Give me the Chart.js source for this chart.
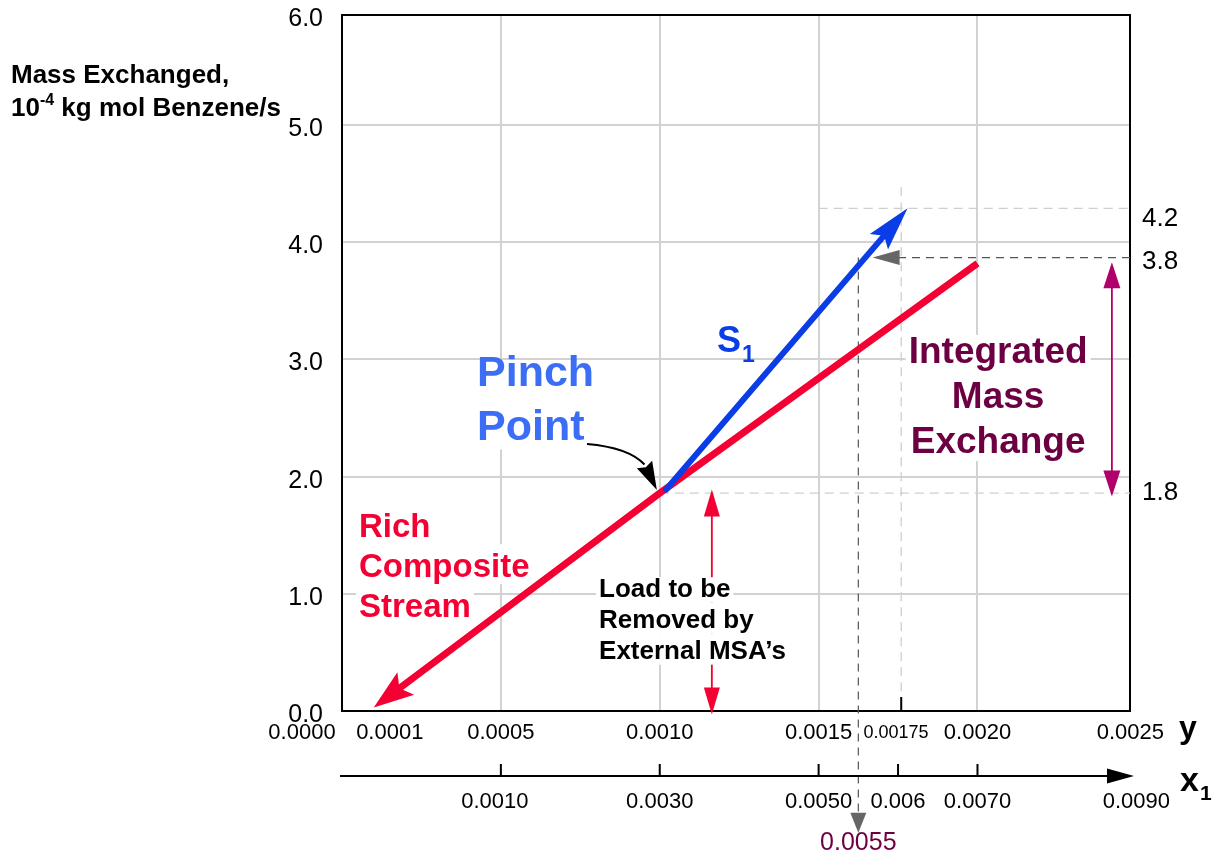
<!DOCTYPE html>
<html>
<head>
<meta charset="utf-8">
<title>Mass exchange composite diagram</title>
<script src="https://cdn.jsdelivr.net/npm/chart.js@4/dist/chart.umd.min.js"></script>
<style>
html,body{margin:0;padding:0;background:#ffffff;}
#wrap{width:1215px;height:860px;}
canvas{display:block;}
</style>
</head>
<body>
<div id="wrap"><canvas id="chart" width="1215" height="860"></canvas></div>
<script>
// ---------------- data ----------------
// main horizontal axis: y (rich-stream composition)
const xMin = 0;
const xMax = 0.00248;
const xGridValues = [0.0005, 0.0010, 0.0015, 0.0020];
const xTickValues = [0, 0.0001, 0.0005, 0.0010, 0.0015, 0.00175, 0.0020, 0.0025];
const xTickLabels = ['0.0000', '0.0001', '0.0005', '0.0010', '0.0015', '0.00175', '0.0020', '0.0025'];

// second horizontal axis: x1 (lean stream S1 composition)
const x1Min = -0.001;
const x1Max = 0.00892;
const x1TickValues = [0.0010, 0.0030, 0.0050, 0.0060, 0.0070, 0.0090];
const x1TickLabels = ['0.0010', '0.0030', '0.0050', '0.006', '0.0070', '0.0090'];
const x1MarkValues = [0.0055];
const x1MarkLabels = ['0.0055'];

// vertical axis: mass exchanged, 1e-4 kg mol benzene/s
const yMin = 0;
const yMax = 5.94;
const yTickValues = [0, 1, 2, 3, 4, 5, 5.94];
const yTickLabels = ['0.0', '1.0', '2.0', '3.0', '4.0', '5.0', '6.0'];
const yGridValues = [1, 2, 3, 4, 5];
const rightTickValues = [1.86, 3.83, 4.2];
const rightTickLabels = ['1.8', '3.8', '4.2'];

// rich composite stream
const richX = [0.0020, 0.0010, 0.0001];
const richY = [3.82, 1.86, 0.03];
// lean stream S1
const s1X = [0.00102, 0.00178];
const s1Y = [1.89, 4.29];
// integrated mass exchange (double arrow)
const imeX = [0.002423, 0.002423];
const imeY = [1.83, 3.83];
// load to be removed by external MSAs (double arrow)
const loadX = [0.001164, 0.001164];
const loadY = [1.89, -0.03];
// dark guide lines
const g38X = [0.00248, 0.00167];
const g38Y = [3.87, 3.87];
const g55X1 = [0.0055, 0.0055];
const g55Y = [3.87, -1.04];
// light guide lines
const g42X = [0.0015, 0.00248];
const g42Y = [4.29, 4.29];
const g175X = [0.00176, 0.00176];
const g175Y = [4.47, 0];
const g18X = [0.0010, 0.00248];
const g18Y = [1.86, 1.86];

// ---------------- styles / layout ----------------
const FAMILY = "'Liberation Sans', Arial, Helvetica, sans-serif";
const f = (size, bold) => (bold ? 'bold ' : '') + size + 'px ' + FAMILY;
const C = {
  red: '#f50032', blue: '#0a3de6', pinch: '#3b6ef5', purple: '#6d0042',
  magenta: '#b0006b', gray: '#666666', dark: '#555555', light: '#cfcfcf', grid: '#d2d2d2'
};
const LAYOUT = {
  top: 15, leftW: 342, rightW: 85, bottomH: 149,
  xLabelDy: 22, xLabelNudge: [-40, 16, 0, 0, 0, -2, 0, -6],
  x1AxisDy: 65, x1LabelDy: 91, x1TickUp: 12, x1LabelNudge: [-6, 0, 0, 0, 0, 0],
  markLabelDy: 132
};

const textBlocks = [
  { lines: ['Pinch', 'Point'], x: 0.000425, y: [2.774, 2.313], size: 43, color: C.pinch, align: 'left', cover: 'under', capTop: 0.58 },
  { lines: ['Integrated', 'Mass', 'Exchange'], x: 0.002065, y: [2.970, 2.586, 2.202], size: 37, color: C.purple, align: 'center', cover: 'under', capTop: 0.76 },
  { lines: ['Rich', 'Composite', 'Stream'], x: 0.0000535, y: [1.485, 1.144, 0.802], size: 33, color: C.red, align: 'left', cover: 'under', capTop: 0.76 },
  { lines: ['Load to be', 'Removed by', 'External MSA\u2019s'], x: 0.000809, y: [0.973, 0.708, 0.444], size: 26, color: '#000000', align: 'left', cover: 'over', capTop: 0.76 }
];
const s1Label = { x: 0.00118, y: 3.064, size: 36, subSize: 23 };
// curved pointer from "Pinch Point" text (start, control, base, tip) in data units
const pinchPointer = { x: [0.000771, 0.000902, 0.000952, 0.000991], y: [2.279, 2.249, 2.104, 1.886] };

const pts = (xs, ys) => xs.map((x, i) => ({ x: x, y: ys[i] }));

function arrowHead(ctx, tx, ty, dx, dy, len, half, notch, color) {
  const L = Math.hypot(dx, dy) || 1;
  const ux = dx / L, uy = dy / L, nx = -uy, ny = ux;
  const bx = tx - ux * len, by = ty - uy * len;
  ctx.save();
  ctx.fillStyle = color;
  ctx.beginPath();
  ctx.moveTo(tx, ty);
  ctx.lineTo(bx + nx * half, by + ny * half);
  ctx.lineTo(tx - ux * (len - notch), ty - uy * (len - notch));
  ctx.lineTo(bx - nx * half, by - ny * half);
  ctx.closePath();
  ctx.fill();
  ctx.restore();
}

const saved = {};
const arrowPlugin = {
  id: 'arrowEnds',
  beforeDatasetDraw(chart, args) {
    const ds = chart.data.datasets[args.index];
    if (!ds.arrows) return;
    const p = args.meta.data;
    const n = p.length;
    const list = [];
    ['start', 'end'].forEach(k => {
      const a = ds.arrows[k];
      if (!a) return;
      const pt = k === 'end' ? p[n - 1] : p[0];
      const q = k === 'end' ? p[n - 2] : p[1];
      const dx = pt.x - q.x, dy = pt.y - q.y;
      const L = Math.hypot(dx, dy) || 1;
      list.push({ pt: pt, x: pt.x, y: pt.y, dx: dx, dy: dy, a: a });
      const s = a.len - (a.notch || 0) - 2;
      pt.x -= dx / L * s;
      pt.y -= dy / L * s;
    });
    if (args.meta.dataset) delete args.meta.dataset._path;
    saved[args.index] = list;
  },
  afterDatasetDraw(chart, args) {
    const list = saved[args.index];
    if (!list) return;
    const ds = chart.data.datasets[args.index];
    list.forEach(s => {
      s.pt.x = s.x; s.pt.y = s.y;
      arrowHead(chart.ctx, s.x, s.y, s.dx, s.dy, s.a.len, s.a.half, s.a.notch || 0, ds.arrowColor || ds.borderColor);
    });
    saved[args.index] = null;
  }
};

function blockLines(ctx, chart, b) {
  const xs = chart.scales.x, ys = chart.scales.y;
  ctx.font = f(b.size, true);
  const X = xs.getPixelForValue(b.x);
  return b.lines.map((t, i) => {
    const w = ctx.measureText(t).width;
    const base = ys.getPixelForValue(b.y[i]);
    const top = i === 0 ? base - b.capTop * b.size : ys.getPixelForValue(b.y[i - 1]) + 0.22 * b.size;
    const bottom = base + 0.22 * b.size;
    const left = b.align === 'center' ? X - w / 2 : X;
    return { left: left - 3, top: top, w: w + 6, h: bottom - top, text: t, X: X, base: base };
  });
}
function coverBlocks(chart, phase) {
  const ctx = chart.ctx;
  ctx.save();
  ctx.fillStyle = '#ffffff';
  textBlocks.filter(b => b.cover === phase).forEach(b => {
    blockLines(ctx, chart, b).forEach(l => ctx.fillRect(l.left, l.top, l.w, l.h));
  });
  ctx.restore();
}

const decoPlugin = {
  id: 'deco',
  beforeDatasetsDraw(chart) { coverBlocks(chart, 'under'); },
  afterDatasetsDraw(chart) {
    const ctx = chart.ctx, area = chart.chartArea;
    const xs = chart.scales.x, x1s = chart.scales.x1, ys = chart.scales.y;
    coverBlocks(chart, 'over');

    // text blocks
    ctx.save();
    textBlocks.forEach(b => {
      ctx.font = f(b.size, true);
      ctx.fillStyle = b.color;
      ctx.textAlign = b.align;
      ctx.textBaseline = 'alphabetic';
      blockLines(ctx, chart, b).forEach(l => ctx.fillText(l.text, l.X, l.base));
    });
    ctx.restore();

    // S1 label
    ctx.save();
    ctx.fillStyle = C.blue;
    ctx.textAlign = 'left';
    ctx.font = f(s1Label.size, true);
    const sx = xs.getPixelForValue(s1Label.x), sy = ys.getPixelForValue(s1Label.y);
    ctx.fillText('S', sx, sy);
    const sw = ctx.measureText('S').width;
    ctx.font = f(s1Label.subSize, true);
    ctx.fillText('1', sx + sw + 1, sy + 10);
    ctx.restore();

    // curved pointer to pinch point
    const P = pinchPointer.x.map((v, i) => [xs.getPixelForValue(v), ys.getPixelForValue(pinchPointer.y[i])]);
    ctx.save();
    ctx.strokeStyle = '#000';
    ctx.lineWidth = 2;
    ctx.beginPath();
    ctx.moveTo(P[0][0], P[0][1]);
    ctx.quadraticCurveTo(P[1][0], P[1][1], P[2][0], P[2][1]);
    ctx.stroke();
    ctx.restore();
    arrowHead(ctx, P[3][0], P[3][1], P[3][0] - P[2][0], P[3][1] - P[2][1],
      Math.hypot(P[3][0] - P[2][0], P[3][1] - P[2][1]), 8.5, 3, '#000');

    // small tick at 0.00175 on the bottom axis
    ctx.save();
    ctx.strokeStyle = '#000';
    ctx.lineWidth = 2;
    const tx = xs.getPixelForValue(g175X[0]);
    ctx.beginPath(); ctx.moveTo(tx, area.bottom - 14); ctx.lineTo(tx, area.bottom); ctx.stroke();
    ctx.restore();

    // y-composition tick labels
    ctx.save();
    ctx.fillStyle = '#000';
    ctx.textAlign = 'center';
    ctx.textBaseline = 'middle';
    xTickValues.forEach((v, i) => {
      ctx.font = f(xTickLabels[i].length > 6 ? 18 : 22, false);
      ctx.fillText(xTickLabels[i], xs.getPixelForValue(v) + LAYOUT.xLabelNudge[i], area.bottom + LAYOUT.xLabelDy);
    });
    ctx.restore();

    // x1 axis: line, arrow, ticks, labels
    const ay = area.bottom + LAYOUT.x1AxisDy;
    const tipX = area.right + 4;
    ctx.save();
    ctx.strokeStyle = '#000';
    ctx.lineWidth = 2;
    ctx.beginPath(); ctx.moveTo(area.left - 2, ay); ctx.lineTo(tipX - 20, ay); ctx.stroke();
    x1TickValues.forEach((v, i) => {
      if (i === x1TickValues.length - 1) return;
      const px = x1s.getPixelForValue(v);
      ctx.beginPath(); ctx.moveTo(px, ay - LAYOUT.x1TickUp); ctx.lineTo(px, ay + 1); ctx.stroke();
    });
    ctx.restore();
    arrowHead(ctx, tipX, ay, 1, 0, 27, 7.5, 0, '#000');
    ctx.save();
    ctx.fillStyle = '#000';
    ctx.textAlign = 'center';
    ctx.textBaseline = 'middle';
    ctx.font = f(22, false);
    x1TickValues.forEach((v, i) => {
      ctx.fillText(x1TickLabels[i], x1s.getPixelForValue(v) + LAYOUT.x1LabelNudge[i], area.bottom + LAYOUT.x1LabelDy);
    });
    ctx.fillStyle = C.purple;
    ctx.font = f(25, false);
    x1MarkValues.forEach((v, i) => {
      ctx.fillText(x1MarkLabels[i], x1s.getPixelForValue(v), area.bottom + LAYOUT.markLabelDy);
    });
    ctx.restore();

    // axis names "y" and "x1"
    ctx.save();
    ctx.fillStyle = '#000';
    ctx.textAlign = 'left';
    ctx.textBaseline = 'alphabetic';
    ctx.font = f(32, true);
    ctx.fillText('y', area.right + 49, area.bottom + 27);
    ctx.font = f(34, true);
    ctx.fillText('x', area.right + 50, area.bottom + 80);
    const xw = ctx.measureText('x').width;
    ctx.font = f(21, true);
    ctx.fillText('1', area.right + 50 + xw + 1, area.bottom + 89);
    ctx.restore();

    // vertical axis title
    ctx.save();
    ctx.fillStyle = '#000';
    ctx.textAlign = 'left';
    ctx.textBaseline = 'alphabetic';
    ctx.font = f(26, true);
    ctx.fillText('Mass Exchanged,', 11, 83);
    ctx.fillText('10', 11, 116);
    let cx = 11 + ctx.measureText('10').width;
    ctx.font = f(16, true);
    ctx.fillText('-4', cx, 105);
    cx += ctx.measureText('-4').width;
    ctx.font = f(26, true);
    ctx.fillText(' kg mol Benzene/s', cx, 116);
    ctx.restore();
  }
};

const line = (extra) => Object.assign({
  showLine: true, pointRadius: 0, pointHoverRadius: 0, fill: false, tension: 0, borderCapStyle: 'butt'
}, extra);

const datasets = [
  line({ label: 'S1', data: pts(s1X, s1Y), borderColor: C.blue, borderWidth: 6, borderCapStyle: 'round',
    arrows: { end: { len: 44, half: 12, notch: 8 } } }),
  line({ label: 'Rich composite stream', data: pts(richX, richY), borderColor: C.red, borderWidth: 7, borderJoinStyle: 'round',
    arrows: { end: { len: 40, half: 14, notch: 8 } } }),
  line({ label: 'Load to be removed by external MSAs', data: pts(loadX, loadY), borderColor: C.red, borderWidth: 1.8, clip: false,
    arrows: { start: { len: 27, half: 8, notch: 0 }, end: { len: 27, half: 8, notch: 0 } } }),
  line({ label: 'Integrated mass exchange', data: pts(imeX, imeY), borderColor: C.magenta, borderWidth: 1.8,
    arrows: { start: { len: 26, half: 8.5, notch: 0 }, end: { len: 26, half: 8.5, notch: 0 } } }),
  line({ label: '3.8 guide', data: pts(g38X, g38Y), borderColor: C.dark, borderWidth: 1.2, borderDash: [8, 6],
    arrowColor: C.gray, arrows: { end: { len: 27, half: 7.5, notch: 0 } } }),
  line({ label: '0.0055 guide', xAxisID: 'x1', data: pts(g55X1, g55Y), borderColor: C.dark, borderWidth: 1.2, borderDash: [8, 6], clip: false,
    arrowColor: C.gray, arrows: { end: { len: 20, half: 8, notch: 0 } } }),
  line({ label: '4.2 guide', data: pts(g42X, g42Y), borderColor: C.light, borderWidth: 1.3, borderDash: [9, 6] }),
  line({ label: '0.00175 guide', data: pts(g175X, g175Y), borderColor: C.light, borderWidth: 1.3, borderDash: [9, 6] }),
  line({ label: '1.8 guide', data: pts(g18X, g18Y), borderColor: C.light, borderWidth: 1.3, borderDash: [9, 6] })
];

const BORDER = { display: true, color: '#000000', width: 2 };
const noPad = s => { s.paddingTop = 0; s.paddingBottom = 0; s.paddingLeft = 0; s.paddingRight = 0; };

new Chart(document.getElementById('chart'), {
  type: 'scatter',
  data: { datasets: datasets },
  options: {
    responsive: false,
    animation: false,
    devicePixelRatio: 1,
    events: [],
    layout: { padding: 0 },
    plugins: { legend: { display: false }, tooltip: { enabled: false } },
    scales: {
      x: {
        type: 'linear', position: 'bottom', min: xMin, max: xMax,
        afterFit: s => { s.height = LAYOUT.bottomH; noPad(s); },
        afterBuildTicks: s => { s.ticks = xGridValues.map(v => ({ value: v })); },
        ticks: { display: false },
        grid: { color: C.grid, lineWidth: 2, drawTicks: false },
        border: BORDER
      },
      x1: { type: 'linear', position: 'bottom', display: false, min: x1Min, max: x1Max },
      xTop: {
        type: 'linear', position: 'top', min: xMin, max: xMax,
        afterFit: s => { s.height = LAYOUT.top; noPad(s); },
        ticks: { display: false },
        grid: { drawOnChartArea: false, drawTicks: false },
        border: BORDER
      },
      y: {
        type: 'linear', position: 'left', min: yMin, max: yMax,
        afterFit: s => { s.width = LAYOUT.leftW; noPad(s); },
        afterBuildTicks: s => { s.ticks = yTickValues.map(v => ({ value: v })); },
        ticks: {
          autoSkip: false, padding: 19, labelOffset: 4, color: '#000',
          font: { family: FAMILY, size: 25 },
          callback: (v, i) => yTickLabels[i]
        },
        grid: {
          lineWidth: 2, drawTicks: false,
          color: ctx => (ctx.tick && yGridValues.includes(ctx.tick.value)) ? C.grid : 'rgba(0,0,0,0)'
        },
        border: BORDER
      },
      yR: {
        type: 'linear', position: 'right', min: yMin, max: yMax,
        afterFit: s => { s.width = LAYOUT.rightW; noPad(s); },
        afterBuildTicks: s => { s.ticks = rightTickValues.map(v => ({ value: v })); },
        ticks: {
          autoSkip: false, padding: 12, color: '#000',
          font: { family: FAMILY, size: 26 },
          callback: (v, i) => rightTickLabels[i]
        },
        grid: { drawOnChartArea: false, drawTicks: false },
        border: BORDER
      }
    }
  },
  plugins: [arrowPlugin, decoPlugin]
});
</script>
</body>
</html>
